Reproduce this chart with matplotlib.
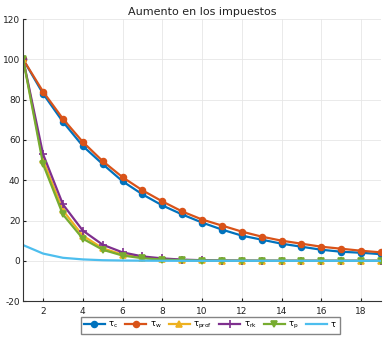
import numpy as np
import matplotlib.pyplot as plt

periods = np.arange(1, 20)
tau_c = [100, 83, 69, 57, 48, 39.5, 33, 27.5, 23, 19, 15.5, 12.5, 10.5, 8.5, 7, 5.5, 4.5, 4, 3.3]
tau_w = [100, 84, 70.5, 59, 49.5, 41.5, 35, 29.5, 24.5, 20.5, 17.5, 14.5, 12, 10, 8.5, 7, 6, 5, 4.2]
tau_prof = [100, 50, 25, 12.5, 6.2, 3.1, 1.6, 0.8, 0.4, 0.2, 0.1, 0.05, 0.02, 0.01, 0, 0, 0, 0, 0]
tau_rk = [100, 53, 28, 15, 8, 4.2, 2.2, 1.2, 0.6, 0.3, 0.15, 0.08, 0.04, 0.02, 0.01, 0, 0, 0, 0]
tau_p = [100, 48, 23, 11, 5.5, 2.6, 1.3, 0.6, 0.3, 0.15, 0.07, 0.03, 0.01, 0, 0, 0, 0, 0, 0]
tau = [7.8, 3.6, 1.5, 0.7, 0.3, 0.15, 0.07, 0.03, 0.01, 0, 0, 0, 0, 0, 0, 0, 0, 0, 0]

series = [
    (tau_c, r"$\mathrm{\tau_c}$", "#0072BD", "o"),
    (tau_w, r"$\mathrm{\tau_w}$", "#D95319", "o"),
    (tau_prof, r"$\mathrm{\tau_{prof}}$", "#EDB120", "^"),
    (tau_rk, r"$\mathrm{\tau_{rk}}$", "#7E2F8E", "+"),
    (tau_p, r"$\mathrm{\tau_p}$", "#77AC30", "v"),
    (tau, r"$\mathrm{\tau}$", "#4DBEEE", None),
]

plt.rcParams["font.family"] = "DejaVu Sans"
plt.rcParams["mathtext.fontset"] = "dejavusans"
plt.rcParams["axes.unicode_minus"] = False

fig = plt.figure(figsize=(3.86, 3.41), dpi=100)
ax = fig.add_axes([0.06, 0.117, 0.927, 0.827])

for values, label, color, marker in series:
    ax.plot(
        periods,
        values,
        color=color,
        linewidth=1.6,
        marker=marker,
        markersize=4.2 if marker != "+" else 6,
        markeredgewidth=1.2,
        label=label,
    )

ax.set_xlim(1, 19)
ax.set_ylim(-20, 120)
ax.set_xticks(np.arange(2, 19, 2))
ax.set_yticks(np.arange(-20, 121, 20))
ax.grid(True, color="#e6e6e6", linewidth=0.6)
ax.set_axisbelow(True)
ax.spines["top"].set_visible(False)
ax.spines["right"].set_visible(False)
ax.spines["left"].set_color("#333333")
ax.spines["bottom"].set_color("#333333")
ax.tick_params(labelsize=6.5, length=2, direction="in", colors="#222222", pad=2)
ax.tick_params(axis="x", pad=4)
ax.set_title("Aumento en los impuestos", fontsize=8, pad=3, color="#222222")

fig.legend(
    loc="center",
    bbox_to_anchor=(0.545, 0.045),
    ncol=6,
    fontsize=6,
    frameon=True,
    fancybox=False,
    edgecolor="#666666",
    handlelength=2.5,
    handletextpad=0.4,
    columnspacing=0.9,
    borderpad=0.3,
)

plt.savefig("out.png", dpi=100)
